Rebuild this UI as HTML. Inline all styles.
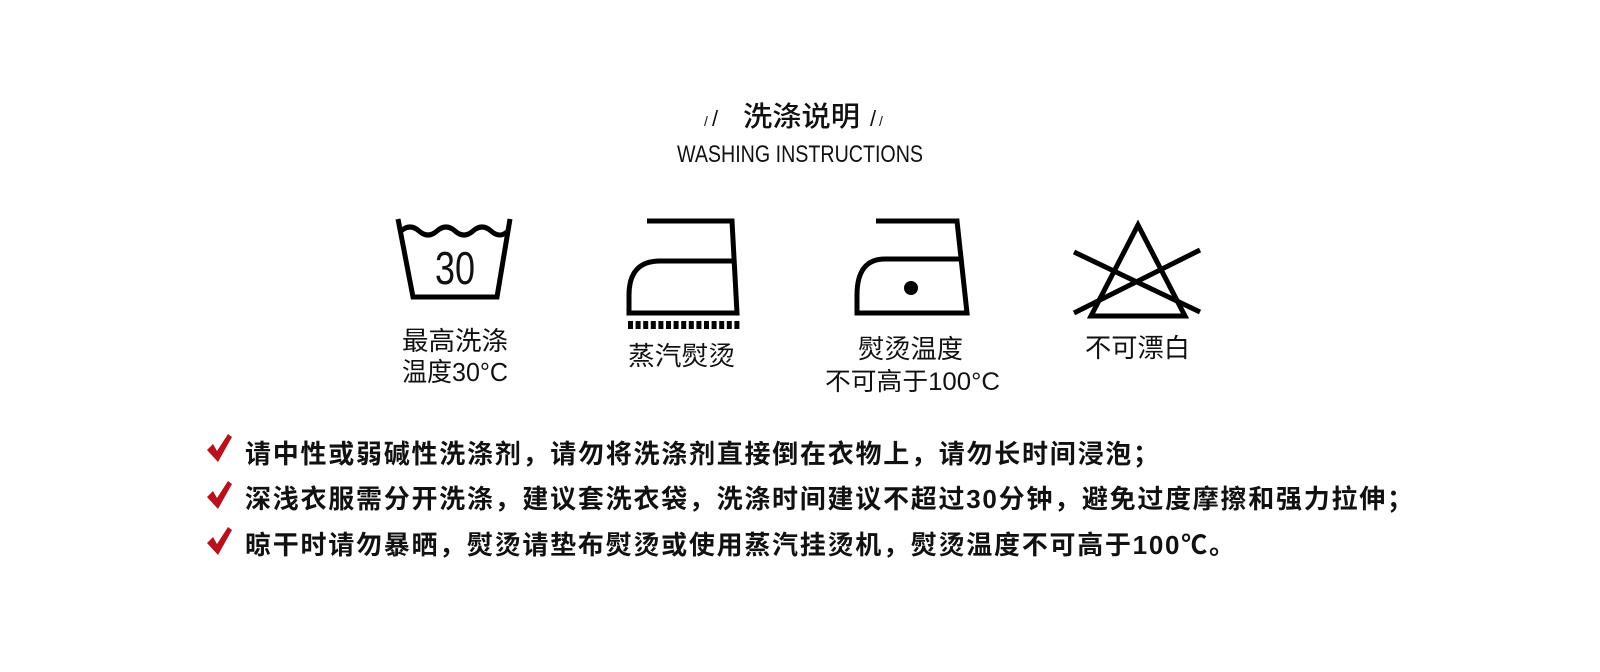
<!DOCTYPE html>
<html><head><meta charset="utf-8"><style>
html,body{margin:0;padding:0;background:#fff;}
svg{display:block;}
text{font-family:"Liberation Sans","Noto Sans CJK SC",sans-serif;fill:#111;}
</style></head><body>
<svg width="1600" height="672" viewBox="0 0 1600 672" xmlns="http://www.w3.org/2000/svg">
<rect width="1600" height="672" fill="#fff"/>
<!-- title -->
<text x="704" y="126" font-size="14">/</text>
<text x="712" y="126" font-size="22">/</text>
<text x="743" y="126" font-size="28" font-weight="500" textLength="117" lengthAdjust="spacingAndGlyphs">洗涤说明</text>
<text x="870" y="126" font-size="22">/</text>
<text x="879" y="126" font-size="14">/</text>
<text x="677" y="162" font-size="24" textLength="246" lengthAdjust="spacingAndGlyphs">WASHING INSTRUCTIONS</text>

<!-- basin -->
<g fill="none" stroke="#000" stroke-width="5">
<path d="M398 219 L413 297 L497 297 L510 219"/>
<path d="M401 231 Q410 223 419 231 T437 231 T455 231 T473 231 T491 231 T508 231"/>
</g>
<text x="455" y="284" font-size="46" text-anchor="middle" textLength="40" lengthAdjust="spacingAndGlyphs">30</text>
<text x="402" y="350" font-size="26" textLength="106" lengthAdjust="spacingAndGlyphs">最高洗涤</text>
<text x="402" y="381" font-size="26" textLength="106" lengthAdjust="spacingAndGlyphs">温度30°C</text>

<!-- iron 1 steam -->
<g fill="none" stroke="#000" stroke-width="5">
<path d="M647 221 L732 221 L737 313 L629 313 L629 295 Q629 261 660 261 L734 261"/>
</g>
<g fill="#000">
<rect x="628" y="321" width="5" height="8"/><rect x="635.6" y="321" width="5" height="8"/><rect x="643.2" y="321" width="5" height="8"/><rect x="650.8" y="321" width="5" height="8"/><rect x="658.4" y="321" width="5" height="8"/><rect x="666" y="321" width="5" height="8"/><rect x="673.6" y="321" width="5" height="8"/><rect x="681.2" y="321" width="5" height="8"/><rect x="688.8" y="321" width="5" height="8"/><rect x="696.4" y="321" width="5" height="8"/><rect x="704" y="321" width="5" height="8"/><rect x="711.6" y="321" width="5" height="8"/><rect x="719.2" y="321" width="5" height="8"/><rect x="726.8" y="321" width="5" height="8"/><rect x="734.4" y="321" width="5" height="8"/>
</g>
<text x="628" y="365" font-size="26" textLength="107" lengthAdjust="spacingAndGlyphs">蒸汽熨烫</text>

<!-- iron 2 -->
<g fill="none" stroke="#000" stroke-width="5">
<path d="M876 221 L957 221 L967 313 L857 313 L857 295 Q857 259 885 259 L962 259"/>
</g>
<circle cx="911" cy="288" r="7" fill="#000"/>
<text x="858" y="358" font-size="26" textLength="105" lengthAdjust="spacingAndGlyphs">熨烫温度</text>
<text x="825" y="390" font-size="25" textLength="175" lengthAdjust="spacingAndGlyphs">不可高于100°C</text>

<!-- no bleach -->
<g fill="none" stroke="#000" stroke-width="5">
<path d="M1138 225 L1185 316 L1091 316 Z" stroke-linejoin="miter"/>
<path d="M1074 252 L1200 312"/>
<path d="M1074 313 L1200 250"/>
</g>
<text x="1085" y="357" font-size="26" textLength="105" lengthAdjust="spacingAndGlyphs">不可漂白</text>

<!-- checks -->
<g fill="#b8101c">
<path d="M207 450 L213 444 L217 451 L228 434 L232 437 L218 462 Z"/>
<path d="M207 497 L213 491 L217 498 L228 481 L232 484 L218 509 Z"/>
<path d="M207 543 L213 537 L217 544 L228 527 L232 530 L218 555 Z"/>
</g>
<g font-weight="bold" font-size="26">
<text x="245" y="463" textLength="914" lengthAdjust="spacing">请中性或弱碱性洗涤剂，请勿将洗涤剂直接倒在衣物上，请勿长时间浸泡；</text>
<text x="245" y="508" textLength="1168" lengthAdjust="spacing">深浅衣服需分开洗涤，建议套洗衣袋，洗涤时间建议不超过30分钟，避免过度摩擦和强力拉伸；</text>
<text x="245" y="554" textLength="990" lengthAdjust="spacing">晾干时请勿暴晒，熨烫请垫布熨烫或使用蒸汽挂烫机，熨烫温度不可高于100℃。</text>
</g>
</svg>
</body></html>
